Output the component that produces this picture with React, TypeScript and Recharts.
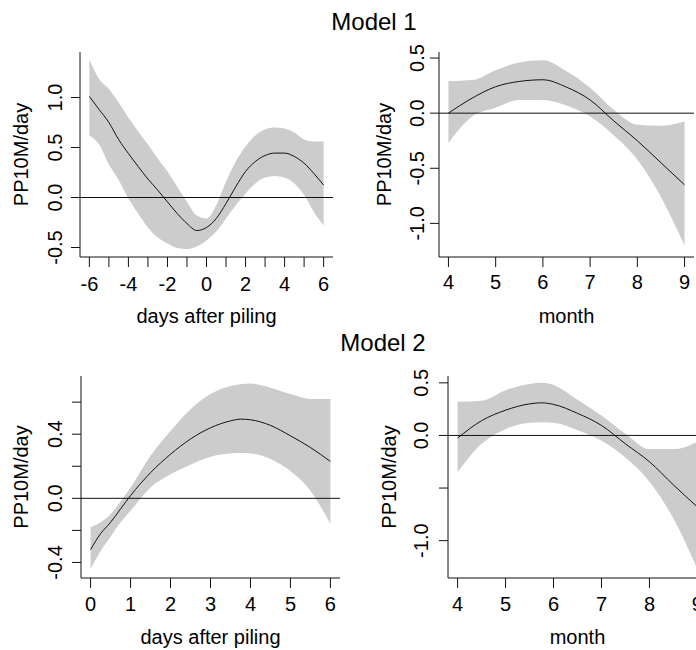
import { Area, ComposedChart, Label, Line, ReferenceLine, XAxis, YAxis } from 'recharts';

const FONT = '"Liberation Sans", Arial, Helvetica, sans-serif';
const INK = '#111';
const BAND = '#cccccc';

// Model 1 – days after piling
const m1DayX = [-6, -5.5, -5, -4.5, -4, -3.5, -3, -2.5, -2, -1.5, -1, -0.5, 0, 0.5, 1, 1.5, 2, 2.5, 3, 3.5, 4, 4.5, 5, 5.5, 6];
const m1DayFit = [1.01, 0.88, 0.75, 0.58, 0.44, 0.31, 0.185, 0.074, -0.044, -0.16, -0.26, -0.33, -0.3, -0.21, -0.06, 0.108, 0.26, 0.36, 0.42, 0.444, 0.444, 0.41, 0.343, 0.24, 0.125];
const m1DayLower = [0.62, 0.53, 0.33, 0.175, -0.01, -0.16, -0.3, -0.4, -0.46, -0.505, -0.515, -0.49, -0.43, -0.34, -0.21, -0.077, 0.04, 0.14, 0.2, 0.215, 0.2, 0.14, 0.024, -0.145, -0.28];
const m1DayUpper = [1.38, 1.185, 1.084, 0.95, 0.8, 0.66, 0.53, 0.39, 0.26, 0.108, -0.044, -0.18, -0.21, -0.077, 0.158, 0.36, 0.51, 0.62, 0.68, 0.7, 0.69, 0.65, 0.58, 0.56, 0.56];
const m1DayXTicks = [-6, -5, -4, -3, -2, -1, 0, 1, 2, 3, 4, 5, 6];
const m1DayXLabels = [-6, -4, -2, 0, 2, 4, 6];
const m1DayYTicks = [-0.5, 0, 0.5, 1];
const m1DayYLabels = [-0.5, 0, 0.5, 1];

// Model 1 – month
const m1MonX = [4, 4.5, 5, 5.5, 6, 6.5, 7, 7.5, 8, 8.5, 9];
const m1MonFit = [0, 0.136, 0.24, 0.288, 0.303, 0.236, 0.12, -0.07, -0.25, -0.45, -0.65];
const m1MonLower = [-0.27, -0.03, 0.05, 0.12, 0.12, 0.07, -0.03, -0.2, -0.42, -0.76, -1.2];
const m1MonUpper = [0.29, 0.3, 0.39, 0.46, 0.48, 0.38, 0.23, 0.03, -0.106, -0.115, -0.076];
const m1MonXTicks = [4, 5, 6, 7, 8, 9];
const m1MonYTicks = [-1, -0.5, 0, 0.5];
const m1MonYLabels = [-1, -0.5, 0, 0.5];

// Model 2 – days after piling
const m2DayX = [0, 0.25, 0.5, 0.75, 1, 1.5, 2, 2.5, 3, 3.5, 3.75, 4, 4.5, 5, 5.5, 6];
const m2DayFit = [-0.32, -0.22, -0.15, -0.066, 0.017, 0.16, 0.275, 0.37, 0.44, 0.483, 0.494, 0.49, 0.455, 0.39, 0.317, 0.23];
const m2DayLower = [-0.44, -0.33, -0.24, -0.15, -0.077, 0.068, 0.15, 0.21, 0.26, 0.28, 0.282, 0.28, 0.245, 0.17, 0.048, -0.16];
const m2DayUpper = [-0.18, -0.15, -0.1, -0.02, 0.068, 0.266, 0.42, 0.556, 0.65, 0.7, 0.712, 0.716, 0.69, 0.65, 0.62, 0.62];
const m2DayXTicks = [0, 1, 2, 3, 4, 5, 6];
const m2DayYTicks = [-0.4, -0.2, 0, 0.2, 0.4, 0.6];
const m2DayYLabels = [-0.4, 0, 0.4];

// Model 2 – month
const m2MonX = [4, 4.5, 5, 5.5, 5.75, 6, 6.5, 7, 7.5, 8, 8.5, 9];
const m2MonFit = [-0.025, 0.14, 0.24, 0.3, 0.31, 0.295, 0.21, 0.095, -0.08, -0.25, -0.47, -0.68];
const m2MonLower = [-0.35, -0.08, 0.06, 0.12, 0.125, 0.12, 0.05, -0.05, -0.21, -0.44, -0.79, -1.27];
const m2MonUpper = [0.32, 0.33, 0.43, 0.49, 0.5, 0.48, 0.34, 0.19, 0.016, -0.13, -0.13, -0.06];
const m2MonXTicks = [4, 5, 6, 7, 8, 9];
const m2MonYTicks = [-1, -0.5, 0, 0.5];
const m2MonYLabels = [-1, 0, 0.5];

// eslint-disable-next-line @typescript-eslint/no-explicit-any
type AnyProps = any;

function YTick({ x, y, payload, labels }: AnyProps) {
  const v = payload?.value as number;
  if (!labels.includes(v)) return <g />;
  return (
    <text
      x={x}
      y={y}
      transform={`rotate(-90 ${x} ${y})`}
      textAnchor="middle"
      fontSize={20}
      fontFamily={FONT}
      fill="#000"
    >
      {v.toFixed(1)}
    </text>
  );
}

interface PanelProps {
  left: number;
  top: number;
  axisW: number;
  plotW: number;
  plotH: number;
  padTop: number;
  padRight: number;
  axisH: number;
  xs: number[];
  fit: number[];
  lower: number[];
  upper: number[];
  xDomain: [number, number];
  yDomain: [number, number];
  xTicks: number[];
  xLabels: number[];
  yTicks: number[];
  yLabels: number[];
  xTitle: string;
  xTickGap: number;
  yTickGap: number;
  yTitleGap: number;
}

function Panel(p: PanelProps) {
  const rows = p.xs.map((x, i) => ({ x, fit: p.fit[i], band: [p.lower[i], p.upper[i]] }));
  const width = p.axisW + p.plotW + p.padRight;
  const height = p.padTop + p.plotH + p.axisH;
  const tickText = { fontSize: 20, fill: '#000', fontFamily: FONT };
  return (
    <div style={{ position: 'absolute', left: p.left, top: p.top }}>
      <ComposedChart
        width={width}
        height={height}
        data={rows}
        margin={{ top: p.padTop, right: p.padRight, bottom: 0, left: 0 }}
      >
        <XAxis
          dataKey="x"
          type="number"
          domain={p.xDomain}
          ticks={p.xTicks}
          interval={0}
          height={p.axisH}
          axisLine={{ stroke: INK }}
          tickLine={{ stroke: INK }}
          tickSize={10}
          tickMargin={p.xTickGap}
          tick={tickText}
          tickFormatter={(v: number) => (p.xLabels.includes(v) ? String(v) : '')}
        >
          <Label
            content={({ viewBox }: AnyProps) => (
              <text
                x={viewBox.x + viewBox.width / 2}
                y={viewBox.y + 66}
                textAnchor="middle"
                fontSize={20}
                fontFamily={FONT}
                fill="#000"
              >
                {p.xTitle}
              </text>
            )}
          />
        </XAxis>
        <XAxis
          xAxisId="top"
          orientation="top"
          type="number"
          domain={p.xDomain}
          height={0}
          tick={false}
          tickLine={false}
          axisLine={{ stroke: INK }}
        />
        <YAxis
          type="number"
          domain={p.yDomain}
          ticks={p.yTicks}
          interval={0}
          width={p.axisW}
          axisLine={{ stroke: INK }}
          tickLine={{ stroke: INK }}
          tickSize={9}
          tickMargin={p.yTickGap}
          tick={(tp: AnyProps) => <YTick {...tp} labels={p.yLabels} />}
        >
          <Label
            content={({ viewBox }: AnyProps) => {
              const cx = viewBox.x + viewBox.width - p.yTitleGap;
              const cy = viewBox.y + viewBox.height / 2;
              return (
                <text
                  x={cx}
                  y={cy}
                  transform={`rotate(-90 ${cx} ${cy})`}
                  textAnchor="middle"
                  fontSize={20}
                  fontFamily={FONT}
                  fill="#000"
                >
                  PP10M/day
                </text>
              );
            }}
          />
        </YAxis>
        <YAxis
          yAxisId="right"
          orientation="right"
          type="number"
          domain={p.yDomain}
          width={0}
          tick={false}
          tickLine={false}
          axisLine={{ stroke: INK }}
        />
        <Area
          type="monotone"
          dataKey="band"
          fill={BAND}
          fillOpacity={1}
          stroke="none"
          isAnimationActive={false}
        />
        <ReferenceLine y={0} stroke={INK} strokeWidth={1} />
        <Line
          type="monotone"
          dataKey="fit"
          stroke={INK}
          strokeWidth={1}
          dot={false}
          isAnimationActive={false}
        />
      </ComposedChart>
    </div>
  );
}

export default function App() {
  return (
    <div
      style={{
        position: 'absolute',
        left: 0,
        top: 0,
        width: 696,
        height: 650,
        overflow: 'hidden',
        background: '#fff',
      }}
    >
      <svg width={696} height={650} style={{ position: 'absolute', left: 0, top: 0 }}>
        <text x={374} y={30} textAnchor="middle" fontSize={24} fontFamily={FONT} fill="#000">
          Model 1
        </text>
        <text x={383} y={351} textAnchor="middle" fontSize={24} fontFamily={FONT} fill="#000">
          Model 2
        </text>
      </svg>
      <Panel
        left={0}
        top={40}
        axisW={80}
        plotW={253}
        plotH={205}
        padTop={12}
        padRight={3}
        axisH={80}
        xs={m1DayX}
        fit={m1DayFit}
        lower={m1DayLower}
        upper={m1DayUpper}
        xDomain={[-6.48, 6.48]}
        yDomain={[-0.595, 1.455]}
        xTicks={m1DayXTicks}
        xLabels={m1DayXLabels}
        yTicks={m1DayYTicks}
        yLabels={m1DayYLabels}
        xTitle="days after piling"
        xTickGap={10}
        yTickGap={9}
        yTitleGap={52}
      />
      <Panel
        left={346}
        top={40}
        axisW={93}
        plotW={255}
        plotH={205}
        padTop={12}
        padRight={2}
        axisH={80}
        xs={m1MonX}
        fit={m1MonFit}
        lower={m1MonLower}
        upper={m1MonUpper}
        xDomain={[3.8, 9.2]}
        yDomain={[-1.305, 0.555]}
        xTicks={m1MonXTicks}
        xLabels={m1MonXTicks}
        yTicks={m1MonYTicks}
        yLabels={m1MonYLabels}
        xTitle="month"
        xTickGap={8}
        yTickGap={6}
        yTitleGap={48}
      />
      <Panel
        left={0}
        top={364}
        axisW={81}
        plotW={259}
        plotH={202}
        padTop={12}
        padRight={3}
        axisH={74}
        xs={m2DayX}
        fit={m2DayFit}
        lower={m2DayLower}
        upper={m2DayUpper}
        xDomain={[-0.24, 6.24]}
        yDomain={[-0.497, 0.763]}
        xTicks={m2DayXTicks}
        xLabels={m2DayXTicks}
        yTicks={m2DayYTicks}
        yLabels={m2DayYLabels}
        xTitle="days after piling"
        xTickGap={9}
        yTickGap={10}
        yTitleGap={53}
      />
      <Panel
        left={346}
        top={364}
        axisW={102}
        plotW={259}
        plotH={202}
        padTop={12}
        padRight={5}
        axisH={74}
        xs={m2MonX}
        fit={m2MonFit}
        lower={m2MonLower}
        upper={m2MonUpper}
        xDomain={[3.8, 9.2]}
        yDomain={[-1.355, 0.565]}
        xTicks={m2MonXTicks}
        xLabels={m2MonXTicks}
        yTicks={m2MonYTicks}
        yLabels={m2MonYLabels}
        xTitle="month"
        xTickGap={9}
        yTickGap={11}
        yTitleGap={52}
      />
    </div>
  );
}
